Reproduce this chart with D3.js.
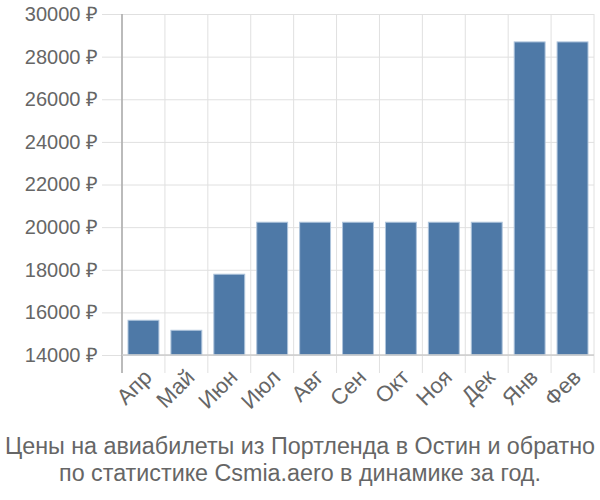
<!DOCTYPE html>
<html>
<head>
<meta charset="utf-8">
<script src="https://cdn.jsdelivr.net/npm/d3@7"></script>
<style>
  body { margin: 0; background: #fff; }
  text { font-family: "Liberation Sans", Arial, sans-serif; }
</style>
</head>
<body>
<div id="chart"></div>
<script>
var months = ["Апр", "Май", "Июн", "Июл", "Авг", "Сен", "Окт", "Ноя", "Дек", "Янв", "Фев"];
var prices = [15630, 15160, 17790, 20230, 20230, 20230, 20230, 20230, 20230, 28690, 28690];
var yTicks = [14000, 16000, 18000, 20000, 22000, 24000, 26000, 28000, 30000];
var titleLines = ["Цены на авиабилеты из Портленда в Остин и обратно", "по статистике Csmia.aero в динамике за год."];

var width = 600, height = 500;
var plotLeft = 122, plotRight = 594, plotTop = 14, plotBottom = 355;

var svg = d3.select("#chart").append("svg")
    .attr("width", width)
    .attr("height", height);

var x = d3.scaleBand().domain(months).range([plotLeft, plotRight]).paddingInner(0.28).paddingOuter(0.14);
var y = d3.scaleLinear().domain([14000, 30000]).range([plotBottom, plotTop]);

// horizontal grid + y labels
svg.append("g")
    .attr("transform", "translate(" + plotRight + ",0)")
    .call(d3.axisLeft(y).tickValues(yTicks).tickSize(plotRight - plotLeft + 20).tickFormat(function(d) { return d + " ₽"; }))
    .call(function(g) {
        g.select(".domain").remove();
        g.selectAll(".tick line").attr("stroke", "#e0e0e0").attr("stroke-width", 1);
        g.selectAll(".tick text").attr("fill", "#666").attr("font-size", 20).attr("font-family", "Liberation Sans, Arial, sans-serif").attr("dx", -1);
    });

// vertical grid at band edges
var step = x.step();
var edges = months.map(function(m) { return x(m) - (step - x.bandwidth()) / 2; });
edges.push(plotRight);
svg.append("g").selectAll("line")
    .data(edges)
    .enter().append("line")
    .attr("x1", function(d) { return d; })
    .attr("x2", function(d) { return d; })
    .attr("y1", plotTop)
    .attr("y2", plotBottom + 18)
    .attr("stroke", "#e0e0e0");

// bars
svg.append("g").selectAll("rect")
    .data(prices)
    .enter().append("rect")
    .attr("x", function(d, i) { return x(months[i]); })
    .attr("width", x.bandwidth())
    .attr("y", function(d) { return y(d); })
    .attr("height", function(d) { return y(14000) - y(d); })
    .attr("fill", "#4e79a7")
    .attr("stroke", "#aec4dc")
    .attr("stroke-width", 1);

// axis lines
svg.append("line").attr("x1", plotLeft).attr("x2", plotLeft).attr("y1", plotTop).attr("y2", plotBottom + 18).attr("stroke", "#aaa").attr("stroke-width", 1.5);
svg.append("line").attr("x1", plotLeft).attr("x2", plotRight).attr("y1", plotBottom).attr("y2", plotBottom).attr("stroke", "#ccc").attr("stroke-width", 1.5);

// x labels
svg.append("g").selectAll("text")
    .data(months)
    .enter().append("text")
    .attr("transform", function(d) {
        return "translate(" + (x(d) + x.bandwidth() / 2 - 2) + "," + (plotBottom + 12) + ") rotate(-45)";
    })
    .attr("text-anchor", "end")
    .attr("dy", "0.75em")
    .attr("fill", "#666")
    .attr("font-size", 22)
    .text(function(d) { return d; });

// title
svg.append("g").selectAll("text")
    .data(titleLines)
    .enter().append("text")
    .attr("x", 300)
    .attr("y", function(d, i) { return 454 + i * 27; })
    .attr("text-anchor", "middle")
    .attr("fill", "#666")
    .attr("font-size", 23.3)
    .text(function(d) { return d; });
</script>
</body>
</html>
